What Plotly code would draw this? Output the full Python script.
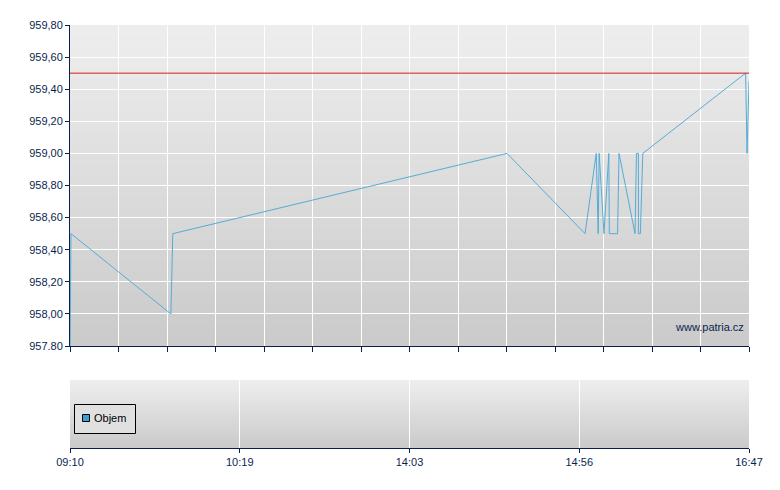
import plotly.graph_objects as go

# ---- data (x in chart-position units, 0..14) ----
x_pos = [0, 0.02, 2.08, 2.12, 9.01, 10.62, 10.85, 10.89, 10.91, 11.01, 11.11, 11.12,
         11.29, 11.32, 11.65, 11.68, 11.72, 11.72, 11.76, 11.81, 13.93, 13.96, 14.0]
prices = [957.7, 958.5, 958.0, 958.5, 959.0, 958.5, 959.0, 958.5, 959.0, 958.5, 959.0, 958.5,
          958.5, 959.0, 958.5, 959.0, 959.0, 958.5, 958.5, 959.0, 959.5, 959.0, 959.45]
ref_level = 959.5
y_ticks = [957.8, 958.0, 958.2, 958.4, 958.6, 958.8, 959.0, 959.2, 959.4, 959.6, 959.8]
y_ticktext = ["957.80", "958,00", "958,20", "958,40", "958,60", "958,80",
              "959,00", "959,20", "959,40", "959,60", "959,80"]
time_ticks = [0, 3.5, 7, 10.5, 14]
time_labels = ["09:10", "10:19", "14:03", "14:56", "16:47"]
legend_name = "Objem"

NAVY = "#0b1f4f"
FONT = "Liberation Sans"
PLOT_W, PLOT_H = 679, 423  # plot-area pixel size


def px_x(p):
    return (p - 70) / PLOT_W


def px_y(p):
    return (448 - p) / PLOT_H


fig = go.Figure()
fig.add_trace(go.Scatter(x=x_pos, y=prices, mode="lines",
                         line=dict(color="#55acd6", width=1),
                         showlegend=False, xaxis="x", yaxis="y", cliponaxis=True))
fig.add_trace(go.Scatter(x=[None], y=[None], mode="markers", showlegend=False,
                         xaxis="x2", yaxis="y2"))

shapes = []
# gradient backgrounds
n = 30
for ax in ("", "2"):
    top, bot = 238, 202
    for i in range(n):
        t = (i + 0.5) / n
        c = round(bot + (top - bot) * t)
        shapes.append(dict(type="rect", xref=f"x{ax} domain", yref=f"y{ax} domain",
                           x0=0, x1=1, y0=i / n, y1=min(1, (i + 1.6) / n),
                           fillcolor=f"rgb({c},{c},{c})", line=dict(width=0), layer="below"))
shapes.append(dict(type="line", xref="x domain", yref="y", x0=0, x1=1,
                   y0=ref_level, y1=ref_level, line=dict(color="#d42020", width=1), layer="above"))

# legend box
shapes.append(dict(type="rect", xref="paper", yref="paper",
                   x0=px_x(74.5), x1=px_x(135.5), y0=px_y(433.5), y1=px_y(404.5),
                   fillcolor="#e0e0e0", line=dict(color="#000000", width=1), layer="above"))
shapes.append(dict(type="rect", xref="paper", yref="paper",
                   x0=px_x(82.5), x1=px_x(89.5), y0=px_y(421.5), y1=px_y(414.5),
                   fillcolor="#3d9fd0", line=dict(color="#000000", width=1), layer="above"))

fig.update_layout(
    width=780, height=490,
    margin=dict(l=62, r=39, t=17, b=50),
    paper_bgcolor="white", plot_bgcolor="rgba(0,0,0,0)",
    font=dict(family=FONT, size=11, color=NAVY),
    shapes=shapes,
    showlegend=False,
    xaxis=dict(domain=[0, 1], range=[0, 14], dtick=1, tick0=0, showticklabels=False,
               showgrid=True, gridcolor="white", gridwidth=1, zeroline=False,
               showline=True, linecolor=NAVY, linewidth=1,
               ticks="outside", ticklen=5, tickcolor=NAVY, anchor="y"),
    yaxis=dict(domain=[0.2411, 1], range=[957.8, 959.8], tickvals=y_ticks, ticktext=y_ticktext,
               showgrid=True, gridcolor="white", gridwidth=1, zeroline=False,
               showline=True, linecolor=NAVY, linewidth=1,
               ticks="outside", ticklen=4, tickcolor=NAVY, anchor="x"),
    xaxis2=dict(domain=[0, 1], range=[0, 14], tickvals=time_ticks, ticktext=time_labels,
                showgrid=True, gridcolor="white", gridwidth=1, zeroline=False,
                showline=True, linecolor=NAVY, linewidth=1,
                ticks="outside", ticklen=4, tickcolor=NAVY, anchor="y2"),
    yaxis2=dict(domain=[0, 0.1608], range=[0, 1], showticklabels=False, showgrid=False,
                zeroline=False, showline=False, ticks="", anchor="x2"),
    annotations=[
        dict(text="www.patria.cz", xref="x", yref="y", x=13.93, y=957.92,
             xanchor="right", yanchor="middle", showarrow=False,
             font=dict(family=FONT, size=11, color=NAVY)),
        dict(text=legend_name, xref="paper", yref="paper", x=px_x(92), y=px_y(418),
             xanchor="left", yanchor="middle", showarrow=False,
             font=dict(family=FONT, size=11, color="#000000")),
    ],
)

fig.write_html("out.html")
